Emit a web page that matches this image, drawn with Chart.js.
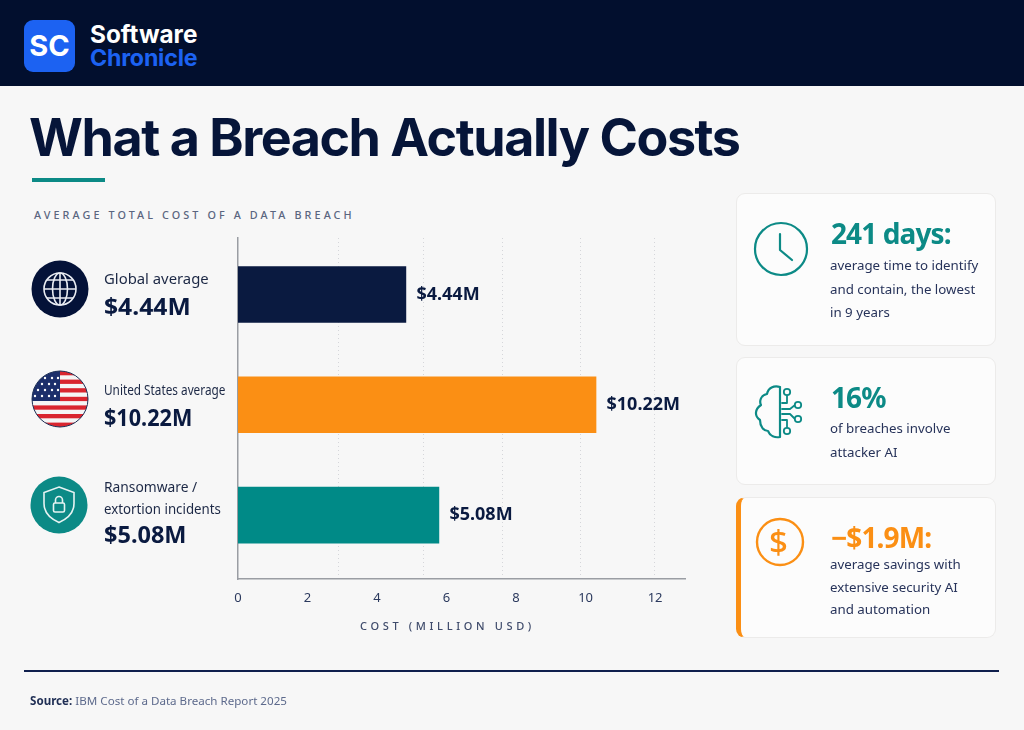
<!DOCTYPE html>
<html>
<head>
<meta charset="utf-8">
<title>What a Breach Actually Costs</title>
<script src="https://cdn.jsdelivr.net/npm/chart.js@4"></script>
<style>
  html, body { margin: 0; padding: 0; }
  body { width: 1024px; height: 730px; position: relative; overflow: hidden; background: #f7f7f7; font-family: "Noto Sans", sans-serif; color: #0a1a40; }
  .abs { position: absolute; white-space: nowrap; }
  #header { left: 0; top: 0; width: 1024px; height: 86px; background: #020f2e; }
  #logo { left: 24px; top: 20px; width: 51px; height: 52px; border-radius: 9px; background: #1c62f2; color: #fff; font: 700 29px/52px Inter, sans-serif; text-align: center; }
  #brand1, #brand2 { left: 90px; font: 700 24px/24px Inter, sans-serif; letter-spacing: -0.2px; }
  #brand1 { top: 22px; color: #fff; letter-spacing: 0; font-size: 24.3px; }
  #brand2 { top: 46px; color: #1c62f2; font-size: 23.2px; }
  #title { left: 29px; top: 106px; font: 700 52px/64px Inter, sans-serif; letter-spacing: -1.45px; color: #061539; }
  #rule { left: 32px; top: 178px; width: 73px; height: 4px; background: #0c8a86; }
  #subtitle { left: 34px; top: 207px; font: 500 10.8px/16px "Noto Sans", sans-serif; letter-spacing: 3.1px; color: #5a657f; }
  #chart { position: absolute; left: 0; top: 200px; }
  #xtitle { left: 360px; top: 618px; font: 500 11px/16px "Noto Sans", sans-serif; letter-spacing: 3.65px; color: #3f4b6b; }
  .cat { left: 104px; font: 400 15px/22px "Noto Sans", sans-serif; color: #1c2845; transform-origin: left center; }
  .val { left: 104px; font: 700 23.5px/30px "Noto Sans", sans-serif; color: #0a1a40; transform-origin: left center; }
  .card { left: 736px; width: 260px; background: #fcfcfc; border: 1px solid #ecebea; border-radius: 9px; box-sizing: border-box; }
  .big { left: 831px; font: 700 28px/36px "Noto Sans", sans-serif; letter-spacing: -0.9px; color: #0c8a86; }
  .txt { left: 830px; font: 400 13.3px/23px "Noto Sans", sans-serif; color: #27335a; }
  #footline { left: 24px; top: 670px; width: 975px; height: 2px; background: #0f1f4d; }
  #source { left: 30px; top: 692px; font: 400 11.6px/18px "Noto Sans", sans-serif; color: #5d6a8c; }
  #source b { color: #1f2e54; }
  svg.abs { overflow: visible; }
</style>
</head>
<body>
<div class="abs" id="header"></div>
<div class="abs" id="logo">SC</div>
<div class="abs" id="brand1">Software</div>
<div class="abs" id="brand2">Chronicle</div>
<div class="abs" id="title">What a Breach Actually Costs</div>
<div class="abs" id="rule"></div>
<div class="abs" id="subtitle">AVERAGE TOTAL COST OF A DATA BREACH</div>

<canvas id="chart" width="700" height="440"></canvas>
<div class="abs" id="xtitle">COST (MILLION USD)</div>
<div id="rows"></div>

<!-- left icons -->
<svg class="abs" style="left:0;top:0" width="120" height="540" fill="none">
  <circle cx="60" cy="289" r="28.5" fill="#041238"/>
  <g stroke="#e9ecf2" stroke-width="1.6">
    <circle cx="60" cy="289" r="16"/>
    <ellipse cx="60" cy="289" rx="7.5" ry="16"/>
    <path d="M60 273v32M44 289h32M47 280h26M47 298h26"/>
  </g>
  <clipPath id="flagClip"><circle cx="60" cy="399" r="28"/></clipPath>
  <g clip-path="url(#flagClip)">
    <rect x="30" y="370" width="60" height="60" fill="#f5f5f5"/>
    <g fill="#d9252f">
      <rect x="60" y="371" width="30" height="4.3"/><rect x="60" y="379.6" width="30" height="4.3"/>
      <rect x="60" y="388.2" width="30" height="4.3"/><rect x="60" y="396.8" width="30" height="4.3"/>
      <rect x="30" y="405.4" width="60" height="4.3"/><rect x="30" y="414" width="60" height="4.3"/>
      <rect x="30" y="422.6" width="60" height="5"/>
    </g>
    <rect x="30" y="370" width="30" height="31" fill="#1c2f6b"/>
    <g fill="#fff">
      <circle cx="38" cy="378" r="1.2"/><circle cx="45" cy="378" r="1.2"/><circle cx="52" cy="378" r="1.2"/><circle cx="58" cy="378" r="1.2"/>
      <circle cx="35" cy="384" r="1.2"/><circle cx="42" cy="384" r="1.2"/><circle cx="49" cy="384" r="1.2"/><circle cx="55" cy="384" r="1.2"/>
      <circle cx="38" cy="390" r="1.2"/><circle cx="45" cy="390" r="1.2"/><circle cx="52" cy="390" r="1.2"/><circle cx="58" cy="390" r="1.2"/>
      <circle cx="35" cy="396" r="1.2"/><circle cx="42" cy="396" r="1.2"/><circle cx="49" cy="396" r="1.2"/><circle cx="55" cy="396" r="1.2"/>
    </g>
  </g>
  <circle cx="60" cy="399" r="28" stroke="#1c2f55" stroke-width="1"/>
  <circle cx="59" cy="505" r="28.5" fill="#0c8a86"/>
  <g stroke="#e6f3f2" stroke-width="1.6">
    <path d="M59 487l15 5.500v11c0 9-6 15-15 19c-9-4-15-10-15-19v-11z"/>
    <rect x="53.500" y="503" width="11" height="9" rx="1.500"/>
    <path d="M55.500 503v-3a3.500 3.500 0 0 1 7 0v3"/>
  </g>
</svg>

<!-- stat cards -->
<div class="abs card" style="top:193px;height:153px"></div>
<div class="abs card" style="top:357px;height:128px"></div>
<div class="abs card" style="top:497px;height:141px;border-left:5px solid #fb8f14"></div>

<svg class="abs" style="left:0;top:0" width="1024" height="730" fill="none" stroke-linecap="round" stroke-linejoin="round">
  <g stroke="#0c8a86" stroke-width="2.200">
    <circle cx="781" cy="249" r="26"/>
    <path d="M780 234v16l12 10"/>
    <path d="M780 387v50M780 387c-6-2-12 1-13 7c-6 1-8 7-6 11c-6 4-7 11-1 15c0 7 4 11 8 11c2 5 7 7 12 6"/>
    <path d="M782 403h5v-8M782 409h8l5-4M782 414h8l5 5M782 420h5v8" stroke-width="1.800"/>
  </g>
  <g stroke="#0c8a86" stroke-width="1.800" fill="#fcfcfc">
    <circle cx="787" cy="392" r="3.200"/>
    <circle cx="798" cy="405" r="3.200"/>
    <circle cx="798" cy="419" r="3.200"/>
    <circle cx="787" cy="431" r="3.200"/>
  </g>
  <circle cx="780" cy="542" r="23" stroke="#fb8f14" stroke-width="2.400"/>
</svg>
<div class="abs" style="left:769px;top:522px;font:500 33px/40px 'Noto Sans',sans-serif;color:#fb8f14">$</div>

<div class="abs big" style="top:215px">241 days:</div>
<div class="abs txt" style="top:254px">average time to identify</div>
<div class="abs txt" style="top:278px">and contain, the lowest</div>
<div class="abs txt" style="top:301px">in 9 years</div>

<div class="abs big" style="top:379px">16%</div>
<div class="abs txt" style="top:417px">of breaches involve</div>
<div class="abs txt" style="top:441px">attacker AI</div>

<div class="abs big" style="top:519px;color:#fb8f14">−$1.9M:</div>
<div class="abs txt" style="top:553px">average savings with</div>
<div class="abs txt" style="top:576px">extensive security AI</div>
<div class="abs txt" style="top:598px">and automation</div>

<div class="abs" id="footline"></div>
<div class="abs" id="source"><b>Source:</b> IBM Cost of a Data Breach Report 2025</div>

<script>
// ------------------ Data ------------------
const categories = [["Global average"], ["United States average"], ["Ransomware /", "extortion incidents"]];
const printedValues = ["$4.44M", "$10.22M", "$5.08M"];
// bar ends as they are drawn in the reference, read against its axis.
// they run past the printed values above (4.83 vs 4.44 etc), same as the original
const barLengths = [4.83, 10.3, 5.78];
const barColors = ["#0a1a40", "#fb8f14", "#008a87"];
const xTicks = [0, 2, 4, 6, 8, 10, 12];
// the dotted guide lines do not sit on the tick labels in the reference
const guideLines = [2.88, 5.35, 7.62, 9.86, 11.97];

// ------------------ Left labels ------------------
const rows = document.getElementById("rows");
const catTops = [[267], [378], [475, 497]];
const catStretch = [[0.99], [0.785], [0.92, 0.885]];
const valTops = [291, 402, 519];
const valStretch = [1.05, 0.92, 1.0];
categories.forEach((lines, i) => {
  lines.forEach((line, j) => {
    rows.innerHTML += `<div class="abs cat" style="top:${catTops[i][j]}px;transform:scaleX(${catStretch[i][j]})">${line}</div>`;
  });
  rows.innerHTML += `<div class="abs val" style="top:${valTops[i]}px;transform:scaleX(${valStretch[i]})">${printedValues[i]}</div>`;
});

// ------------------ Value labels on bars ------------------
const barLabels = {
  id: "barLabels",
  afterDatasetsDraw(chart) {
    const ctx = chart.ctx;
    ctx.save();
    ctx.font = "700 18px 'Noto Sans'";
    ctx.fillStyle = "#0a1a40";
    ctx.textBaseline = "middle";
    chart.getDatasetMeta(0).data.forEach((bar, i) => {
      ctx.fillText(printedValues[i], bar.x + 10.5, bar.y);
    });
    ctx.restore();
  }
};

// ------------------ Chart ------------------
new Chart(document.getElementById("chart").getContext("2d"), {
  type: "bar",
  data: {
    datasets: [{
      data: barLengths.map((v, i) => ({ x: v, y: i })),
      backgroundColor: barColors,
      barThickness: 56,
      borderWidth: 0
    }]
  },
  options: {
    indexAxis: "y",
    responsive: false,
    animation: false,
    layout: { padding: { top: 38, right: 15, left: 0, bottom: 0 } },
    plugins: { legend: { display: false }, tooltip: { enabled: false } },
    scales: {
      x: {
        type: "linear",
        min: 0,
        max: 12.86,
        afterBuildTicks: s => { s.ticks = xTicks.map(value => ({ value })); },
        afterFit: s => { s.height = 61; },
        border: { color: "#9a9da3", width: 1.5 },
        grid: { display: false, drawTicks: false },
        ticks: { color: "#2c3a5e", font: { family: "Noto Sans", size: 13 }, padding: 11, maxRotation: 0, autoSkip: false }
      },
      guides: {
        type: "linear",
        axis: "x",
        position: "bottom",
        min: 0,
        max: 12.86,
        afterBuildTicks: s => { s.ticks = guideLines.map(value => ({ value })); },
        afterFit: s => { s.height = 0; },
        border: { display: false, dash: [1, 3] },
        grid: { color: "#d5d6da", lineWidth: 1, drawTicks: false },
        ticks: { display: false }
      },
      y: {
        type: "linear",
        reverse: true,
        offset: false,
        min: -0.5125,
        max: 2.58,
        afterFit: s => { s.width = 238; },
        border: { color: "#9a9da3", width: 1.5 },
        grid: { display: false, drawTicks: false },
        ticks: { display: false }
      }
    }
  },
  plugins: [barLabels]
});
</script>
</body>
</html>
